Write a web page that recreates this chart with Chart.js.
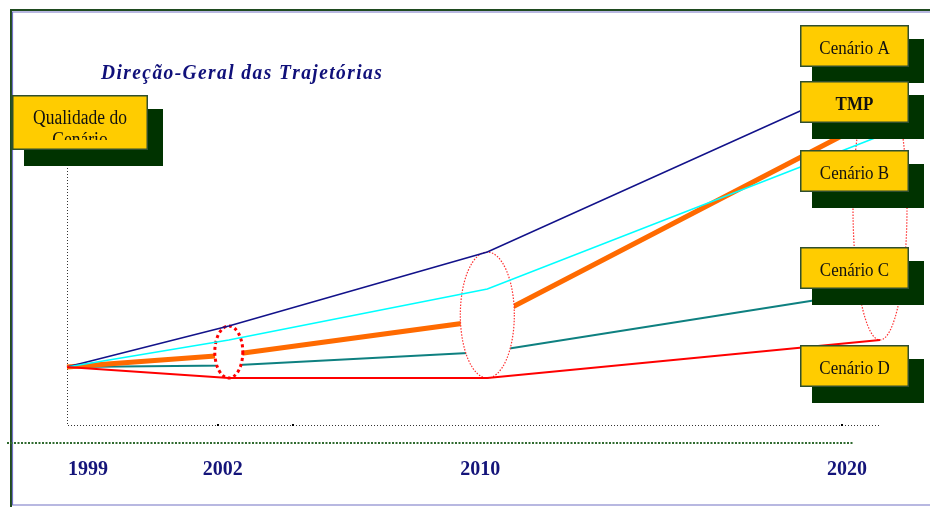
<!DOCTYPE html>
<html>
<head>
<meta charset="utf-8">
<script src="https://cdn.jsdelivr.net/npm/chart.js@4.4.0/dist/chart.umd.min.js"></script>
<style>
body { margin: 0; background: #fff; }
canvas { display: block; }
</style>
</head>
<body>
<canvas id="trajChart" width="930" height="507"></canvas>
<script>
const years = ['1999', '2002', '2010', '2020'];
// where each year sits along the horizontal axis (0 = 1999 ... 100 = 2020), not evenly spaced in the original
const yearPos = [0, 19.9, 51.7, 100];

// "qualidade do cenário" for each trajectory
const cenarioA = [14.5, 24.75, 43.25, 87.5];
const tmp      = [14.5, 17.5, 26.25, 77.25];
const cenarioB = [14.5, 21.25, 34, 72.25];
const cenarioC = [14.5, 14.9, 18.25, 33.75];
const cenarioD = [14.5, 11.75, 11.75, 21.25];

const boxLabels = ['Cenário A', 'TMP', 'Cenário B', 'Cenário C', 'Cenário D'];
const yAxisLabel = ['Qualidade do', 'Cenário'];
const chartTitle = 'Direção-Geral das Trajetórias';

const SERIF = '"Liberation Serif", "Times New Roman", serif';

function toPoints(values) {
    return values.map((v, i) => ({ x: yearPos[i], y: v }));
}

// text in the original is a little taller than wide
function stretchedText(ctx, text, x, y, sy) {
    ctx.save();
    ctx.translate(x, y);
    ctx.scale(1, sy);
    ctx.fillText(text, 0, 0);
    ctx.restore();
}

function drawBox(ctx, b, label, bold, size) {
    ctx.fillStyle = '#003300';
    ctx.fillRect(b.x + 12, b.y + 14, b.w + 3, b.h + 2);
    ctx.fillStyle = '#ffcc00';
    ctx.fillRect(b.x, b.y, b.w, b.h);
    ctx.strokeStyle = '#2f4f2f';
    ctx.lineWidth = 1.5;
    ctx.setLineDash([]);
    ctx.strokeRect(b.x + 0.75, b.y + 0.75, b.w - 1.5, b.h - 1.5);
    ctx.fillStyle = '#111';
    ctx.font = (bold ? 'bold ' : '') + size + 'px ' + SERIF;
    ctx.textAlign = 'center';
    ctx.textBaseline = 'alphabetic';
    stretchedText(ctx, label, b.x + b.w / 2, b.y + 29, 1.14);
}

// dotted ellipses around each year, white inside so they hide the lines below them
const ellipsePlugin = {
    id: 'ellipses',
    afterDatasetDraw(chart, args) {
        if (args.index !== 1) return; // right after the TMP line
        const { ctx, scales: { x, y } } = chart;
        const radii = [14, 27, 27];
        ctx.save();
        for (let i = 1; i < years.length; i++) {
            const cx = x.getPixelForValue(yearPos[i]);
            const top = y.getPixelForValue(cenarioA[i]);
            const bottom = y.getPixelForValue(cenarioD[i]);
            ctx.beginPath();
            ctx.ellipse(cx, (top + bottom) / 2, radii[i - 1], (bottom - top) / 2, 0, 0, Math.PI * 2);
            ctx.fillStyle = '#fff';
            ctx.fill();
            if (i === 1) {
                ctx.lineWidth = 3;
                ctx.setLineDash([3, 3]);
                ctx.strokeStyle = '#ff0000';
            } else {
                ctx.lineWidth = 1.2;
                ctx.setLineDash([1.5, 1.5]);
                ctx.strokeStyle = '#ff3030';
            }
            ctx.stroke();
        }
        ctx.restore();
    }
};

const decorPlugin = {
    id: 'decor',
    beforeDraw(chart) {
        const ctx = chart.ctx;
        ctx.save();
        ctx.fillStyle = '#fff';
        ctx.fillRect(0, 0, chart.width, chart.height);
        // frame
        ctx.strokeStyle = '#1f4a1f';
        ctx.lineWidth = 2;
        ctx.beginPath();
        ctx.moveTo(11, 507);
        ctx.lineTo(11, 10);
        ctx.lineTo(930, 10);
        ctx.stroke();
        ctx.strokeStyle = '#7272c4';
        ctx.lineWidth = 1.2;
        ctx.beginPath();
        ctx.moveTo(12.5, 504.5);
        ctx.lineTo(12.5, 12);
        ctx.lineTo(930, 12);
        ctx.moveTo(12, 505);
        ctx.lineTo(930, 505);
        ctx.stroke();
        ctx.restore();
    },
    beforeDatasetsDraw(chart) {
        // dotted axis lines along the chart area
        const { ctx, chartArea: a } = chart;
        ctx.save();
        ctx.strokeStyle = '#333';
        ctx.lineWidth = 1;
        ctx.setLineDash([1, 2]);
        ctx.beginPath();
        ctx.moveTo(Math.round(a.left) + 0.5, a.top);
        ctx.lineTo(Math.round(a.left) + 0.5, Math.round(a.bottom) + 0.5);
        ctx.lineTo(a.right, Math.round(a.bottom) + 0.5);
        ctx.stroke();
        ctx.restore();
    },
    afterDraw(chart) {
        const { ctx, scales: { x } } = chart;
        ctx.save();

        // second dotted rule under the axis
        ctx.strokeStyle = '#2f6a2f';
        ctx.lineWidth = 2;
        ctx.setLineDash([2, 1.5]);
        ctx.beginPath();
        ctx.moveTo(7, 443);
        ctx.lineTo(853, 443);
        ctx.stroke();
        ctx.setLineDash([]);

        // small tick marks on the axis
        ctx.fillStyle = '#000';
        [218, 293, 842].forEach(px => ctx.fillRect(px - 1, 424, 2, 2));

        // year labels
        const labelShift = [21, -6, -7, -33];
        ctx.fillStyle = '#14147a';
        ctx.font = 'bold 20px ' + SERIF;
        ctx.textAlign = 'center';
        ctx.textBaseline = 'alphabetic';
        years.forEach((yr, i) => {
            ctx.fillText(yr, x.getPixelForValue(yearPos[i]) + labelShift[i], 475);
        });

        // title
        ctx.font = 'italic bold 19.5px ' + SERIF;
        ctx.textAlign = 'left';
        ctx.fillStyle = '#10107a';
        const plain = ctx.measureText(chartTitle).width;
        const spacing = (280 - plain) / (chartTitle.length - 1);
        let tx = 101;
        for (const ch of chartTitle) {
            stretchedText(ctx, ch, tx, 79, 1.12);
            tx += ctx.measureText(ch).width + spacing;
        }

        // y axis label box, text cut off at the bottom like the original
        const qBox = { x: 12, y: 95, w: 136, h: 55 };
        ctx.fillStyle = '#003300';
        ctx.fillRect(qBox.x + 12, qBox.y + 14, qBox.w + 3, qBox.h + 2);
        ctx.fillStyle = '#ffcc00';
        ctx.fillRect(qBox.x, qBox.y, qBox.w, qBox.h);
        ctx.strokeStyle = '#2f4f2f';
        ctx.lineWidth = 1.5;
        ctx.strokeRect(qBox.x + 0.75, qBox.y + 0.75, qBox.w - 1.5, qBox.h - 1.5);
        ctx.save();
        ctx.beginPath();
        ctx.rect(qBox.x, qBox.y, qBox.w, 45);
        ctx.clip();
        ctx.fillStyle = '#111';
        ctx.font = '17.5px ' + SERIF;
        ctx.textAlign = 'center';
        stretchedText(ctx, yAxisLabel[0], 80, 124, 1.14);
        stretchedText(ctx, yAxisLabel[1], 80, 146, 1.14);
        ctx.restore();

        // scenario boxes on the right
        const boxTops = [25, 81, 150, 247, 345];
        boxLabels.forEach((lbl, i) => {
            drawBox(ctx, { x: 800, y: boxTops[i], w: 109, h: 42 }, lbl, lbl === 'TMP', 17);
        });

        ctx.restore();
    }
};

const lineDefaults = {
    pointRadius: 0,
    tension: 0,
    fill: false,
    clip: false
};

const hiddenAxis = {
    ticks: { display: false },
    grid: { display: false, drawTicks: false },
    border: { display: false }
};

new Chart(document.getElementById('trajChart').getContext('2d'), {
    type: 'line',
    data: {
        datasets: [
            { ...lineDefaults, label: 'Cenário A', data: toPoints(cenarioA), borderColor: '#12128a', borderWidth: 1.5, order: 3 },
            { ...lineDefaults, label: 'TMP', data: toPoints(tmp), borderColor: '#ff6a00', borderWidth: 5, order: 4 },
            { ...lineDefaults, label: 'Cenário B', data: toPoints(cenarioB), borderColor: '#00ffff', borderWidth: 1.5, order: 2 },
            { ...lineDefaults, label: 'Cenário C', data: toPoints(cenarioC), borderColor: '#0e8080', borderWidth: 2, order: 5 },
            { ...lineDefaults, label: 'Cenário D', data: toPoints(cenarioD), borderColor: '#ff0000', borderWidth: 2, order: 1 }
        ]
    },
    options: {
        responsive: false,
        animation: false,
        layout: {
            padding: { left: 67, right: 50, top: 105, bottom: 82 }
        },
        plugins: {
            legend: { display: false },
            tooltip: { enabled: false }
        },
        scales: {
            x: { type: 'linear', min: 0, max: 100, ...hiddenAxis },
            y: { min: 0, max: 80, ...hiddenAxis }
        }
    },
    plugins: [ellipsePlugin, decorPlugin]
});
</script>
</body>
</html>
